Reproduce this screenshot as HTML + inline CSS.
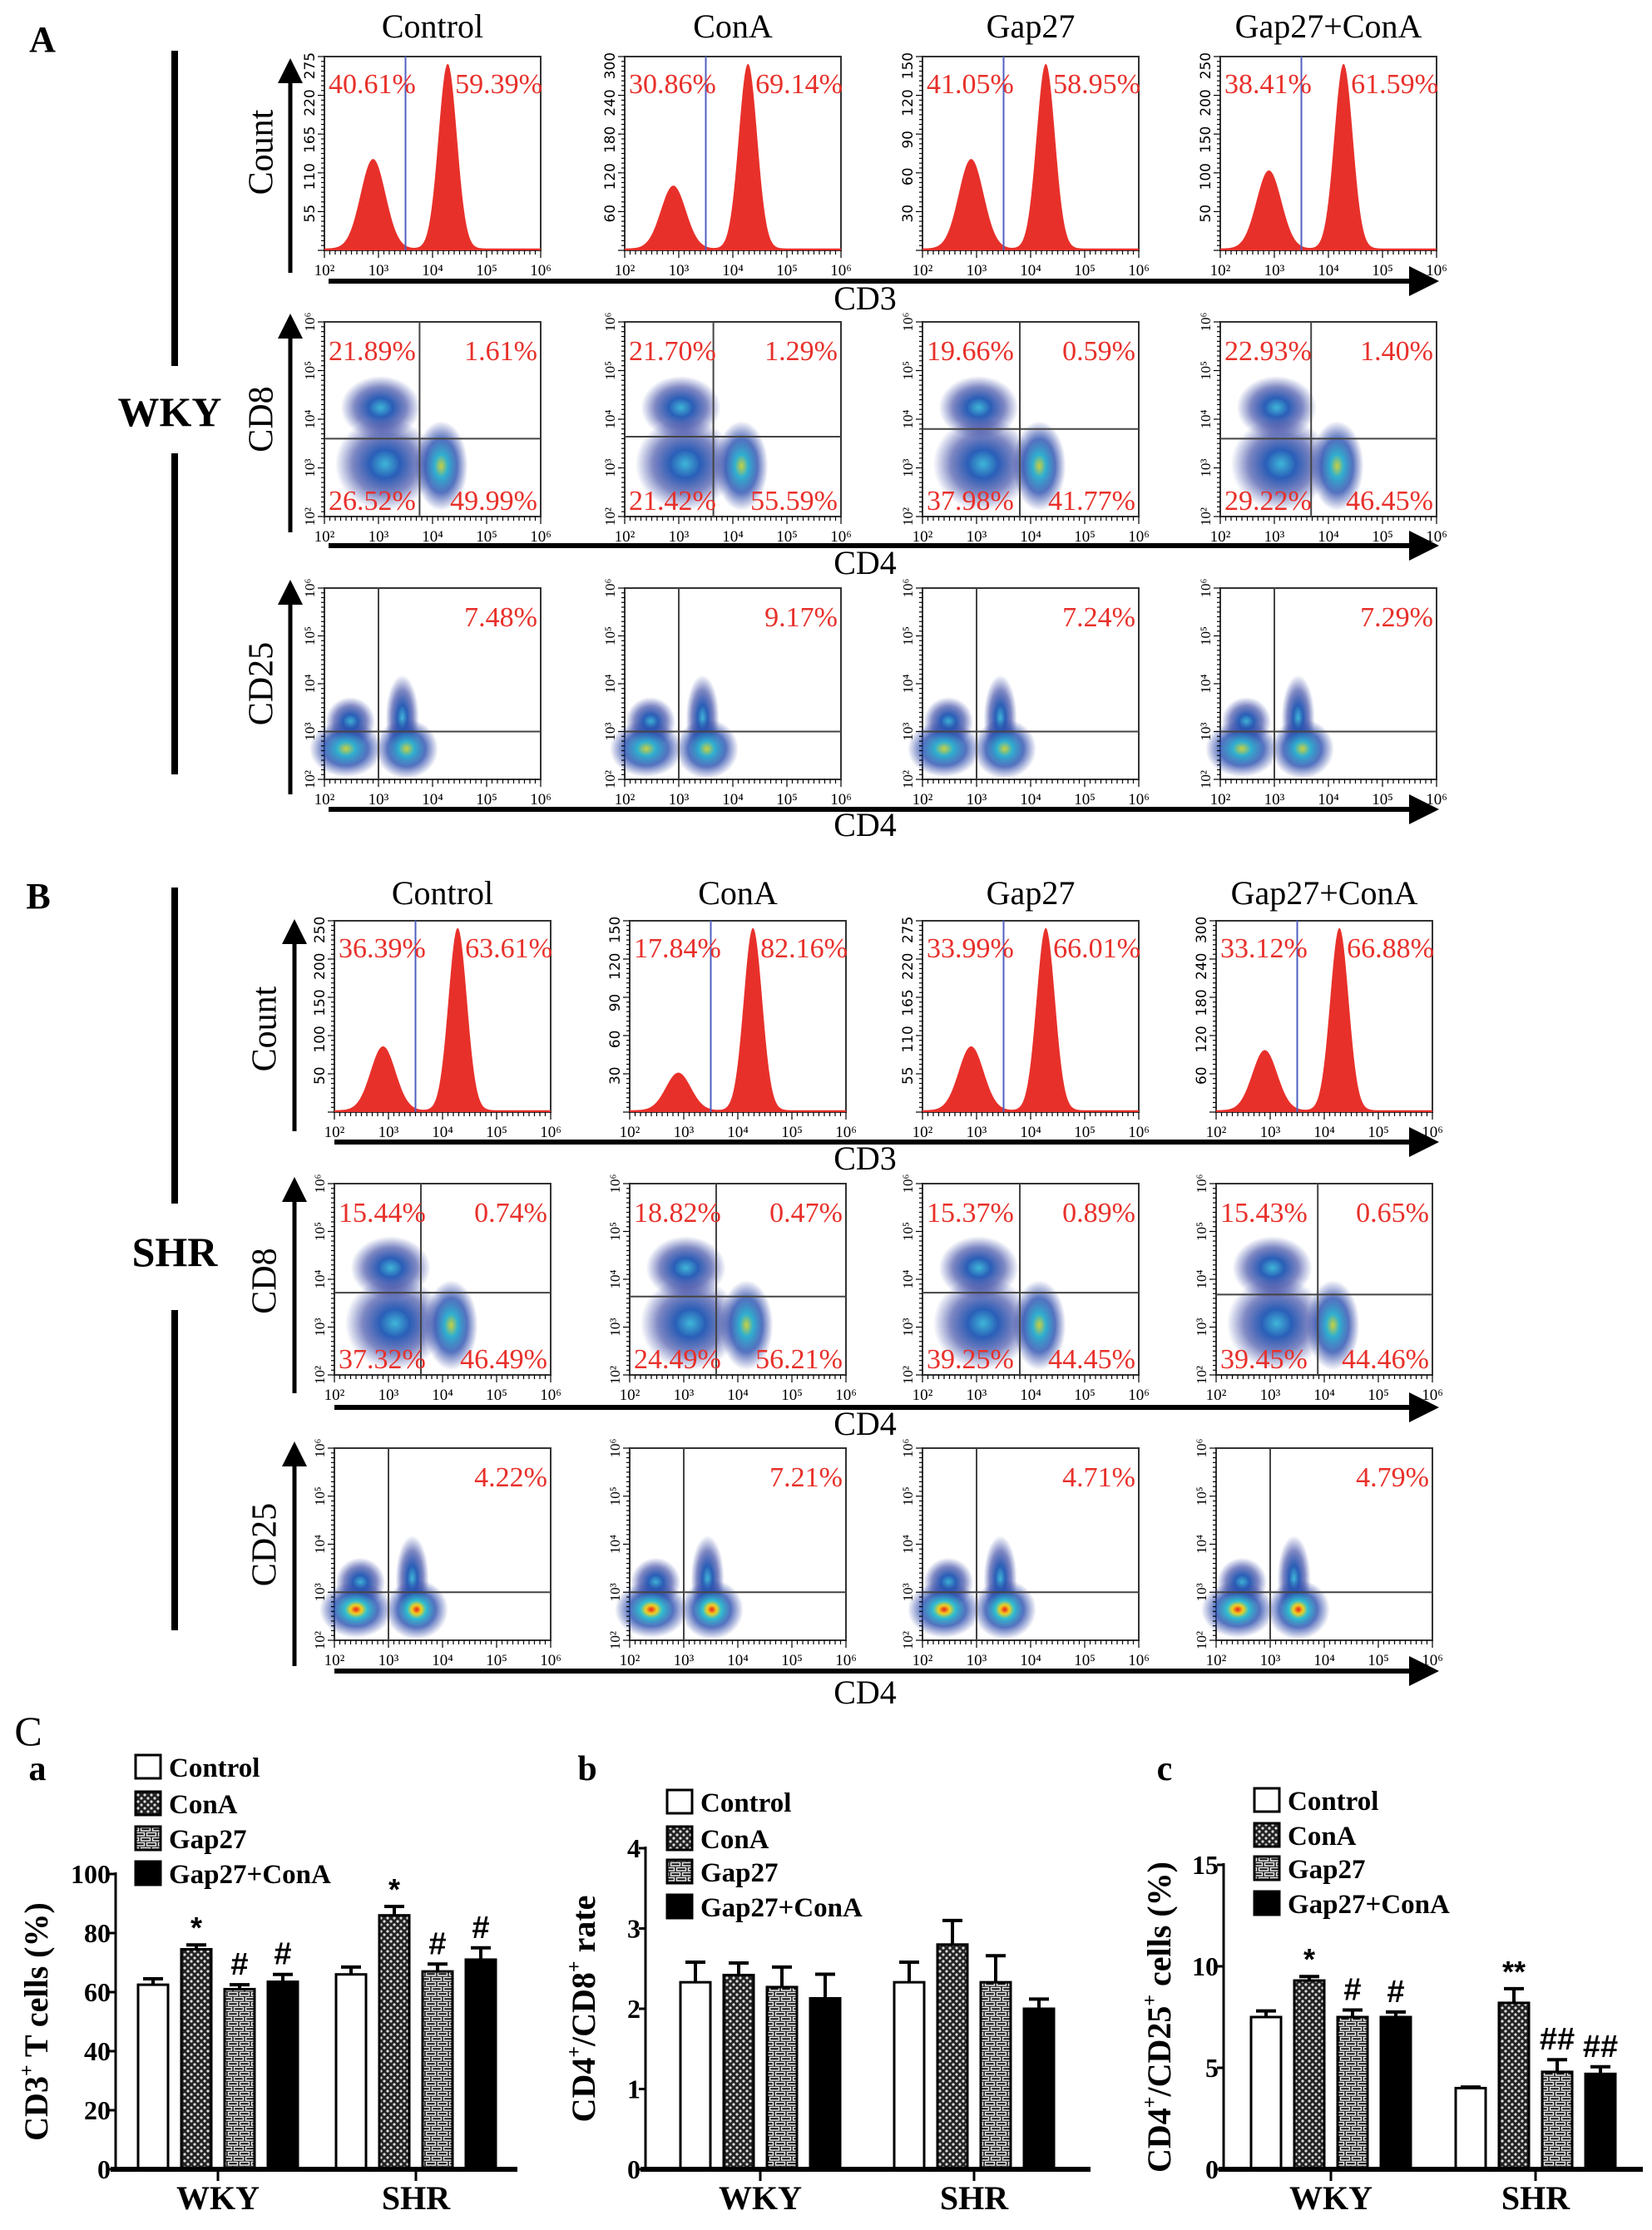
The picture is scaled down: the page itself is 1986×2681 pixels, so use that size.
<!DOCTYPE html>
<html><head><meta charset="utf-8"><style>
html,body{margin:0;padding:0;background:#fff;}
svg{display:block;font-family:"Liberation Serif",serif;}
</style></head><body>
<svg id="fig" xmlns="http://www.w3.org/2000/svg" width="1986" height="2681" viewBox="0 0 1986 2681">
<defs>
<pattern id="pConA" width="8" height="8" patternUnits="userSpaceOnUse"><rect width="8" height="8" fill="#222"/><circle cx="2" cy="2" r="1.6" fill="#ddd"/><circle cx="6" cy="6" r="1.6" fill="#ddd"/></pattern>
<pattern id="pGap" width="14" height="12" patternUnits="userSpaceOnUse"><rect width="14" height="12" fill="#111"/><rect x="1.5" y="1.5" width="11" height="3.5" fill="none" stroke="#eee" stroke-width="1.5"/><rect x="-5.5" y="7.5" width="11" height="3.5" fill="none" stroke="#eee" stroke-width="1.5"/><rect x="8.5" y="7.5" width="11" height="3.5" fill="none" stroke="#eee" stroke-width="1.5"/></pattern>
<radialGradient id="gBlue"><stop offset="0" stop-color="#3fb6d8"/><stop offset="0.3" stop-color="#2a5fb8"/><stop offset="0.65" stop-color="#2a3a9c" stop-opacity="0.6"/><stop offset="1" stop-color="#3040a0" stop-opacity="0"/></radialGradient>
<radialGradient id="gHot"><stop offset="0" stop-color="#e8201c"/><stop offset="0.15" stop-color="#f0d020"/><stop offset="0.3" stop-color="#30c0d0"/><stop offset="0.6" stop-color="#2a4fb0" stop-opacity="0.8"/><stop offset="1" stop-color="#3040a0" stop-opacity="0"/></radialGradient>
<radialGradient id="gWarm"><stop offset="0" stop-color="#c8d040"/><stop offset="0.25" stop-color="#30b0d0"/><stop offset="0.6" stop-color="#2a4fb0" stop-opacity="0.8"/><stop offset="1" stop-color="#3040a0" stop-opacity="0"/></radialGradient>
<marker id="arr" markerWidth="6" markerHeight="6" refX="3" refY="3" orient="auto"><path d="M0,0 L6,3 L0,6 z" fill="#000"/></marker>
</defs>
<g id="root"></g>
</svg>
<script>
// ---------- flow cytometry data ----------
const groupTitles = ["Control","ConA","Gap27","Gap27+ConA"];
const histLeftA = ["40.61%","30.86%","41.05%","38.41%"];
const histRightA = ["59.39%","69.14%","58.95%","61.59%"];
const histPeak1A = [0.47,0.33,0.47,0.41];
const histYTicksA = [[55,110,165,220,275],[60,120,180,240,300],[30,60,90,120,150],[50,100,150,200,250]];
const cd8A_UL = ["21.89%","21.70%","19.66%","22.93%"];
const cd8A_UR = ["1.61%","1.29%","0.59%","1.40%"];
const cd8A_LL = ["26.52%","21.42%","37.98%","29.22%"];
const cd8A_LR = ["49.99%","55.59%","41.77%","46.45%"];
const cd25A = ["7.48%","9.17%","7.24%","7.29%"];
const histLeftB = ["36.39%","17.84%","33.99%","33.12%"];
const histRightB = ["63.61%","82.16%","66.01%","66.88%"];
const histPeak1B = [0.34,0.2,0.34,0.32];
const histYTicksB = [[50,100,150,200,250],[30,60,90,120,150],[55,110,165,220,275],[60,120,180,240,300]];
const cd8B_UL = ["15.44%","18.82%","15.37%","15.43%"];
const cd8B_UR = ["0.74%","0.47%","0.89%","0.65%"];
const cd8B_LL = ["37.32%","24.49%","39.25%","39.45%"];
const cd8B_LR = ["46.49%","56.21%","44.45%","44.46%"];
const cd25B = ["4.22%","7.21%","4.71%","4.79%"];

// ---------- bar chart data ----------
const barGroups = ["WKY","SHR"];
const barSeries = ["Control","ConA","Gap27","Gap27+ConA"];
const cd3Values = [[62.5,74.5,61,63.5],[66,86,67,71]];
const cd3Errors = [[2,1.5,1.5,2.5],[2.5,3,2.5,4]];
const cd3Marks = [["","*","#","#"],["","*","#","#"]];
const cd3Ticks = [0,20,40,60,80,100];
const ratioValues = [[2.33,2.42,2.27,2.13],[2.33,2.8,2.33,2.0]];
const ratioErrors = [[0.25,0.15,0.25,0.3],[0.25,0.3,0.33,0.12]];
const ratioMarks = [["","","",""],["","","",""]];
const ratioTicks = [0,1,2,3,4];
const tregValues = [[7.5,9.3,7.5,7.5],[4.0,8.2,4.8,4.7]];
const tregErrors = [[0.3,0.2,0.35,0.25],[0.05,0.7,0.6,0.35]];
const tregMarks = [["","*","#","#"],["","**","##","##"]];
const tregTicks = [0,5,10,15];

const NS="http://www.w3.org/2000/svg";
const root=document.getElementById('root');
function mk(tag,attrs,parent,txt){const e=document.createElementNS(NS,tag);for(const k in attrs)e.setAttribute(k,attrs[k]);if(txt!==undefined)e.textContent=txt;(parent||root).appendChild(e);return e;}

const BW=260;
function logX(x0,v){return x0+(v-2)/4*BW;}

function yTicks(g,x0,y0,y1,labels,maxv){
  for(let i=0;i<=40;i++){const y=y1-(y1-y0)*i/40;mk('line',{x1:x0-(i%8==0?8:4),y1:y,x2:x0,y2:y,stroke:'#000','stroke-width':1.2},g);}
  labels.forEach(v=>{const y=y1-(y1-y0)*v/maxv;const t=mk('text',{x:x0-12,y:y,'font-size':17,'text-anchor':'middle',transform:`rotate(-90 ${x0-12} ${y})`,'font-family':'"DejaVu Sans",sans-serif'},g,String(v));
    
    });
}
function logYTicks(g,x0,y0,y1){
  for(let i=0;i<=40;i++){const y=y1-(y1-y0)*i/40;mk('line',{x1:x0-(i%10==0?8:4),y1:y,x2:x0,y2:y,stroke:'#000','stroke-width':1.2},g);}
  [2,3,4,5,6].forEach(p=>{const y=y1-(y1-y0)*(p-2)/4;const t=mk('text',{x:x0-12,y:y,'font-size':17,'text-anchor':'middle',transform:`rotate(-90 ${x0-12} ${y})`},g,'10'+['²','³','⁴','⁵','⁶'][p-2]);
    
    });
}
function xTicks(g,x0,yb){
  for(let i=0;i<=40;i++){const x=x0+BW*i/40;mk('line',{x1:x,y1:yb,x2:x,y2:yb+(i%10==0?9:5),stroke:'#000','stroke-width':1.2},g);}
  [2,3,4,5,6].forEach(p=>{const t=mk('text',{x:logX(x0,p),y:yb+30,'font-size':19,'text-anchor':'middle'},g,'10'+['²','³','⁴','⁵','⁶'][p-2]);
    
    });
}
function pct(g,x,y,txt,anchor){const t=mk('text',{x:x,y:y,'font-size':34,fill:'#e8302a','text-anchor':anchor||'start'},g,txt);
  
  }

function histogram(x0,y0,y1,left,right,p1,ticks,name){
  const g=mk('g',{});
  
  
  mk('rect',{x:x0,y:y0,width:BW,height:y1-y0,fill:'#fff',stroke:'#333','stroke-width':2},g);
  const H=y1-y0-4;let d=`M${x0},${y1}`;
  for(let i=0;i<=200;i++){const v=2+4*i/200;
    const h=p1*Math.exp(-Math.pow((v-2.9)/0.23,2)/2)+0.97*Math.exp(-Math.pow((v-4.28)/0.17,2)/2)+0.01;
    d+=` L${logX(x0,v).toFixed(1)},${(y1-H*Math.min(h,1)).toFixed(1)}`;}
  d+=` L${x0+BW},${y1} Z`;
  const p=mk('path',{d:d,fill:'#e8302a'},g);
  
  
  const gx=logX(x0,3.5);
  mk('line',{x1:gx,y1:y0,x2:gx,y2:y1,stroke:'#5060c0','stroke-width':2},g);
  yTicks(g,x0,y0,y1,ticks,ticks[4]*1.05);
  xTicks(g,x0,y1);
  pct(g,x0+5,y0+44,left);pct(g,x0+BW+2,y0+44,right,'end');
}
function blob(g,cx,cy,rx,ry,grad){const e=mk('ellipse',{cx:cx,cy:cy,rx:rx,ry:ry,fill:`url(#${grad})`},g);
  
  }
function dotCD8(x0,y0,y1,ul,ur,ll,lr,vx,hy,name,hot){
  const g=mk('g',{});
  
  
  const H=y1-y0;
  mk('rect',{x:x0,y:y0,width:BW,height:H,fill:'#fff',stroke:'#333','stroke-width':2},g);
  blob(g,x0+BW*0.26,y0+H*0.44,48,38,'gBlue');
  blob(g,x0+BW*0.28,y0+H*0.73,60,56,'gBlue');
  blob(g,x0+BW*0.54,y0+H*0.74,32,54,hot?'gHot':'gWarm');
  mk('line',{x1:x0+BW*vx,y1:y0,x2:x0+BW*vx,y2:y1,stroke:'#444','stroke-width':2},g);
  mk('line',{x1:x0,y1:y0+H*hy,x2:x0+BW,y2:y0+H*hy,stroke:'#444','stroke-width':2},g);
  logYTicks(g,x0,y0,y1);xTicks(g,x0,y1);
  pct(g,x0+5,y0+46,ul);pct(g,x0+BW-4,y0+46,ur,'end');
  pct(g,x0+5,y1-8,ll);pct(g,x0+BW-4,y1-8,lr,'end');
}
function dotCD25(x0,y0,y1,txt,name,hot){
  const g=mk('g',{});
  
  
  const H=y1-y0;
  mk('rect',{x:x0,y:y0,width:BW,height:H,fill:'#fff',stroke:'#333','stroke-width':2},g);
  blob(g,x0+BW*0.36,y0+H*0.68,20,52,'gBlue');
  blob(g,x0+BW*0.12,y0+H*0.7,30,30,'gBlue');
  blob(g,x0+BW*0.1,y0+H*0.84,44,34,hot?'gHot':'gWarm');
  blob(g,x0+BW*0.38,y0+H*0.84,38,36,hot?'gHot':'gWarm');
  mk('line',{x1:x0+BW*0.25,y1:y0,x2:x0+BW*0.25,y2:y1,stroke:'#444','stroke-width':2},g);
  mk('line',{x1:x0,y1:y0+H*0.75,x2:x0+BW,y2:y0+H*0.75,stroke:'#444','stroke-width':2},g);
  logYTicks(g,x0,y0,y1);xTicks(g,x0,y1);
  pct(g,x0+BW-4,y0+46,txt,'end');
}
function label(x,y,txt,size,opts,name){const t=mk('text',Object.assign({x:x,y:y,'font-size':size,'text-anchor':'middle'},opts||{}),root,txt);
  
  return t;}
function vlabel(x,y,txt,name){const t=mk('text',{x:x,y:y,'font-size':42,'text-anchor':'middle','dominant-baseline':'middle',transform:`rotate(-90 ${x} ${y})`},root,txt);
  
  }
function hline(y,x1,x2){const l=mk('line',{x1:x1,y1:y,x2:x2,y2:y,stroke:'#000','stroke-width':6,'marker-end':'url(#arr)'});
  
  }
function varrow(x,y1,y2){const l=mk('line',{x1:x,y1:y2,x2:x,y2:y1,stroke:'#000','stroke-width':5,'marker-end':'url(#arr)'});
  
  }
function bar(x,y1,y2){const r=mk('rect',{x:x-4,y:y1,width:8,height:y2-y1,fill:'#000'});
  
  }

// ---- Panel A ----
label(51,62,'A',44,{'font-weight':'bold'},'panel-label-a');
const colsA=[390,751,1109,1467];
groupTitles.forEach((t,i)=>label(colsA[i]+BW/2,45,t,40,{},'column-title'));
colsA.forEach((x,i)=>histogram(x,68,301,histLeftA[i],histRightA[i],histPeak1A[i],histYTicksA[i],'histogram-cd3-wky'));
colsA.forEach((x,i)=>dotCD8(x,387,621,cd8A_UL[i],cd8A_UR[i],cd8A_LL[i],cd8A_LR[i],[0.44,0.41,0.45,0.42][i],[0.6,0.59,0.55,0.6][i],'dotplot-cd8-cd4-wky',false));
colsA.forEach((x,i)=>dotCD25(x,707,937,cd25A[i],'dotplot-cd25-cd4-wky',false));
hline(338,395,1712);hline(656,395,1712);hline(973,395,1712);
label(1040,372,'CD3',40,{},'x-axis-title-cd3');
label(1040,690,'CD4',40,{},'x-axis-title-cd4');
label(1040,1005,'CD4',40,{},'x-axis-title-cd4');
vlabel(318,183,'Count','y-axis-title-count');vlabel(318,504,'CD8','y-axis-title-cd8');vlabel(318,822,'CD25','y-axis-title-cd25');
varrow(349,85,328);varrow(349,392,640);varrow(349,712,955);
bar(210,61,440);bar(210,545,931);
label(204,512,'WKY',50,{'font-weight':'bold'},'row-label-wky');

// ---- Panel B ----
label(46,1092,'B',44,{'font-weight':'bold'},'panel-label-b');
const colsB=[402,757,1109,1462];
groupTitles.forEach((t,i)=>label(colsB[i]+BW/2,1087,t,40,{},'column-title'));
colsB.forEach((x,i)=>histogram(x,1107,1337,histLeftB[i],histRightB[i],histPeak1B[i],histYTicksB[i],'histogram-cd3-shr'));
colsB.forEach((x,i)=>dotCD8(x,1423,1653,cd8B_UL[i],cd8B_UR[i],cd8B_LL[i],cd8B_LR[i],[0.4,0.4,0.45,0.47][i],[0.57,0.59,0.57,0.58][i],'dotplot-cd8-cd4-shr',false));
colsB.forEach((x,i)=>dotCD25(x,1741,1972,cd25B[i],'dotplot-cd25-cd4-shr',true));
hline(1373,402,1712);hline(1692,402,1712);hline(2009,402,1712);
label(1040,1406,'CD3',40,{},'x-axis-title-cd3');
label(1040,1725,'CD4',40,{},'x-axis-title-cd4');
label(1040,2048,'CD4',40,{},'x-axis-title-cd4');
vlabel(322,1237,'Count','y-axis-title-count');vlabel(322,1540,'CD8','y-axis-title-cd8');vlabel(322,1857,'CD25','y-axis-title-cd25');
varrow(354,1120,1360);varrow(354,1430,1675);varrow(354,1748,2003);
bar(210,1067,1447);bar(210,1575,1960);
label(210,1522,'SHR',50,{'font-weight':'bold'},'row-label-shr');

// ---- Panel C ----
label(34,2098,'C',50,{},'panel-label-c');
label(45,2140,'a',42,{'font-weight':'bold'},'subpanel-label-a');
label(706,2140,'b',42,{'font-weight':'bold'},'subpanel-label-b');
label(1400,2140,'c',42,{'font-weight':'bold'},'subpanel-label-c');
const fills=['#fff','url(#pConA)','url(#pGap)','#000'];

function barChart(cfg){
  const {ax,axEnd,y0,yTop,vmax,centers,values,errors,marks,ticks,title,titleX,legX,legY,name}=cfg;
  const g=mk('g',{});
  
  
  const ys=v=>y0-(y0-yTop)*v/vmax;
  const BWb=36,SP=52;
  values.forEach((grp,gi)=>grp.forEach((v,si)=>{
    const cx=centers[gi]+(si-1.5)*SP;
    const top=ys(v),eTop=ys(v+errors[gi][si]);
    const eb=mk('line',{x1:cx,y1:top,x2:cx,y2:eTop,stroke:'#000','stroke-width':4},g);
    
    
    mk('line',{x1:cx-12,y1:eTop,x2:cx+12,y2:eTop,stroke:'#000','stroke-width':4},g);
    const r=mk('rect',{x:cx-BWb/2,y:top,width:BWb,height:y0-top,fill:fills[si],stroke:'#000','stroke-width':3},g);
    
    
    if(marks[gi][si]){const t=mk('text',{x:cx,y:eTop-(marks[gi][si].includes('*')?8:12),'font-size':marks[gi][si].includes('*')?36:38,'text-anchor':'middle','font-weight':'bold','font-family':'"Liberation Sans",sans-serif'},g,marks[gi][si]);
      
      }
  }));
  mk('line',{x1:ax,y1:yTop-2,x2:ax,y2:y0,stroke:'#000','stroke-width':3},g);
  mk('line',{x1:ax-6,y1:y0,x2:axEnd,y2:y0,stroke:'#000','stroke-width':6},g);
  ticks.forEach(v=>{const y=ys(v);mk('line',{x1:ax-8,y1:y,x2:ax,y2:y,stroke:'#000','stroke-width':3},g);
    const t=mk('text',{x:ax-6,y:y+11,'font-size':32,'text-anchor':'end','font-weight':'bold'},g,String(v));
    
    });
  centers.forEach((c,i)=>{mk('line',{x1:c,y1:y0,x2:c,y2:y0+14,stroke:'#000','stroke-width':3},g);
    const t=mk('text',{x:c,y:2656,'font-size':40,'text-anchor':'middle','font-weight':'bold'},g,barGroups[i]);
    
    });
  const yc=(y0+yTop)/2;
  const tt=mk('text',{x:titleX,y:yc,'font-size':40,'text-anchor':'middle','font-weight':'bold','dominant-baseline':'middle',transform:`rotate(-90 ${titleX} ${yc})`},g);
  tt.innerHTML=title;
  
  
  barSeries.forEach((s,i)=>{const ly=legY[i];
    const r=mk('rect',{x:legX,y:ly-26,width:30,height:28,fill:fills[i],stroke:'#000','stroke-width':3},g);
    
    
    const t=mk('text',{x:legX+40,y:ly,'font-size':33,'font-weight':'bold'},g,s);
    
    });
}
barChart({ax:139,axEnd:622,y0:2608,yTop:2253,vmax:100,centers:[262,500],values:cd3Values,errors:cd3Errors,marks:cd3Marks,ticks:cd3Ticks,
  title:'CD3<tspan dy="-14" font-size="24">+</tspan><tspan dy="14"> T cells (%)</tspan>',titleX:48,legX:163,legY:[2136,2180,2222,2264],name:'chart-cd3-t-cells'});
barChart({ax:776,axEnd:1311,y0:2608,yTop:2222,vmax:4,centers:[914,1171],values:ratioValues,errors:ratioErrors,marks:ratioMarks,ticks:ratioTicks,
  title:'CD4<tspan dy="-14" font-size="24">+</tspan><tspan dy="14">/CD8</tspan><tspan dy="-14" font-size="24">+</tspan><tspan dy="14"> rate</tspan>',titleX:706,legX:802,legY:[2178,2222,2262,2304],name:'chart-cd4-cd8-ratio'});
barChart({ax:1471,axEnd:1975,y0:2608,yTop:2242,vmax:15,centers:[1600,1846],values:tregValues,errors:tregErrors,marks:tregMarks,ticks:tregTicks,
  title:'CD4<tspan dy="-14" font-size="24">+</tspan><tspan dy="14">/CD25</tspan><tspan dy="-14" font-size="24">+</tspan><tspan dy="14"> cells (%)</tspan>',titleX:1398,legX:1508,legY:[2176,2218,2258,2300],name:'chart-cd4-cd25-cells'});
</script>
</body></html>
